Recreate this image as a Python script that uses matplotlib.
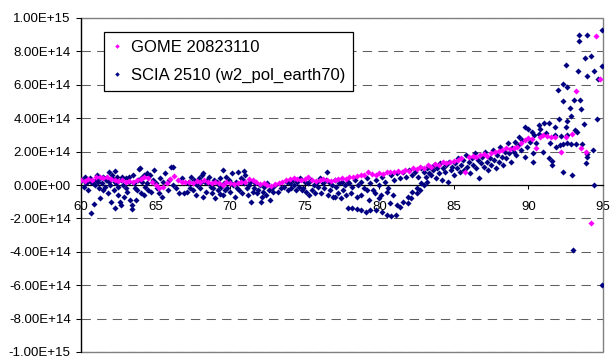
import matplotlib
matplotlib.use('Agg')
import matplotlib.pyplot as plt
from matplotlib.patches import Rectangle
from matplotlib.ticker import FuncFormatter, MultipleLocator

plt.rcParams['font.family'] = ['Liberation Sans', 'DejaVu Sans']

# values, y in units of 1e14
unit = 1e14

gome_x = [
    60.0, 60.25, 60.5, 60.75, 61.0, 61.25, 61.5, 61.75, 62.0, 62.25,
    62.5, 62.75, 63.0, 63.25, 63.5, 63.75, 64.0, 64.25, 64.5, 64.75,
    65.0, 65.25, 65.5, 65.75, 66.0, 66.25, 66.5, 66.75, 67.0, 67.25,
    67.5, 67.75, 68.0, 68.25, 68.5, 68.75, 69.0, 69.25, 69.5, 69.75,
    70.0, 70.25, 70.5, 70.75, 71.0, 71.25, 71.5, 71.75, 72.0, 72.25,
    72.5, 72.75, 73.0, 73.25, 73.5, 73.75, 74.0, 74.25, 74.5, 74.75,
    75.0, 75.25, 75.5, 75.75, 76.0, 76.25, 76.5, 76.75, 77.0, 77.25,
    77.5, 77.75, 78.0, 78.25, 78.5, 78.75, 79.0, 79.25, 79.5, 79.75,
    80.0, 80.25, 80.5, 80.75, 81.0, 81.25, 81.5, 81.75, 82.0, 82.25,
    82.5, 82.75, 83.0, 83.25, 83.5, 83.75, 84.0, 84.25, 84.5, 84.75,
    85.0, 85.25, 85.5, 85.75, 86.0, 86.25, 86.5, 86.75, 87.0, 87.25,
    87.5, 87.75, 88.0, 88.25, 88.5, 88.75, 89.0, 89.25, 89.5, 89.75,
    90.0, 90.25, 90.5, 90.75, 91.0, 91.25, 91.5, 91.8, 92.2, 92.5,
    92.9, 93.2, 93.5, 93.85, 94.2, 94.5, 94.8,
]
gome_y = [
    0.3, 0.25, 0.35, 0.3, 0.45, 0.5, 0.4, 0.45, 0.35, 0.3,
    0.25, 0.3, 0.2, 0.25, 0.15, 0.3, 0.35, 0.5, 0.4, 0.2,
    0.0, -0.15, -0.1, 0.1, 0.35, 0.55, 0.3, 0.2, 0.15, 0.2,
    0.1, 0.25, 0.2, 0.3, 0.15, 0.1, 0.2, 0.1, 0.0, 0.15,
    0.1, 0.05, 0.1, 0.2, 0.15, 0.35, 0.3, 0.15, 0.05, 0.1,
    0.0, -0.05, 0.05, 0.1, 0.2, 0.3, 0.35, 0.4, 0.35, 0.3,
    0.35, 0.5, 0.3, 0.25, 0.3, 0.35, 0.3, 0.25, 0.3, 0.35,
    0.4, 0.35, 0.45, 0.5, 0.55, 0.6, 0.6, 0.75, 0.65, 0.6,
    0.7, 0.65, 0.75, 0.8, 0.75, 0.85, 0.8, 0.9, 0.85, 1.0,
    0.95, 1.1, 1.0, 1.2, 1.1, 1.25, 1.2, 1.35, 1.3, 1.4,
    1.45, 1.5, 1.6, 0.8, 1.7, 1.75, 1.7, 1.8, 1.85, 1.75,
    1.9, 2.0, 2.05, 2.1, 2.2, 2.15, 2.2, 2.3, 2.5, 2.7,
    2.8, 2.75, 2.2, 2.9, 3.0, 2.95, 2.9, 2.9, 1.95, 2.85,
    3.05, 5.6, 2.2, 1.97, -2.3, 8.9, 6.35,
]

scia_x = [
    60.1, 60.2, 60.3, 60.35, 60.4, 60.5, 60.6, 60.65, 60.7, 60.8,
    60.9, 60.95, 61.0, 61.1, 61.15, 61.2, 61.25, 61.3, 61.4, 61.45,
    61.5, 61.6, 61.65, 61.7, 61.8, 61.85, 61.9, 61.95, 62.0, 62.05,
    62.1, 62.2, 62.25, 62.3, 62.3, 62.35, 62.4, 62.45, 62.5, 62.6,
    62.65, 62.7, 62.75, 62.8, 62.9, 63.0, 63.05, 63.1, 63.2, 63.25,
    63.3, 63.4, 63.45, 63.5, 63.55, 63.6, 63.7, 63.75, 63.8, 63.9,
    63.95, 64.0, 64.05, 64.1, 64.2, 64.25, 64.3, 64.4, 64.45, 64.5,
    64.6, 64.7, 64.8, 64.9, 65.0, 65.1, 65.2, 65.3, 65.4, 65.5,
    65.6, 65.8, 65.9, 66.05, 66.15, 66.2, 66.4, 66.6, 66.75, 66.9,
    67.1, 67.2, 67.25, 67.3, 67.4, 67.5, 67.6, 67.65, 67.7, 67.8,
    67.9, 68.0, 68.05, 68.1, 68.2, 68.3, 68.4, 68.45, 68.5, 68.6,
    68.7, 68.8, 68.85, 68.9, 69.0, 69.1, 69.2, 69.25, 69.3, 69.4,
    69.5, 69.6, 69.65, 69.7, 69.8, 69.9, 70.0, 70.05, 70.1, 70.2,
    70.3, 70.4, 70.45, 70.5, 70.6, 70.7, 70.8, 70.85, 70.9, 71.0,
    71.1, 71.2, 71.25, 71.3, 71.4, 71.5, 69.55, 70.95, 68.15, 69.35,
    71.6, 71.7, 71.8, 71.9, 72.0, 72.1, 72.15, 72.2, 72.3, 72.4,
    72.5, 72.6, 72.7, 72.8, 72.9, 73.0, 73.2, 73.4, 73.6, 73.8,
    73.9, 74.0, 74.1, 74.2, 74.3, 74.4, 74.5, 74.6, 74.7, 74.8,
    74.9, 75.0, 75.1, 75.2, 75.3, 75.4, 75.5, 75.6, 75.7, 75.8,
    75.9, 76.0, 76.1, 76.2, 76.3, 76.4, 76.5, 76.55, 76.6, 76.7,
    76.8, 76.9, 77.0, 77.05, 77.1, 77.2, 77.3, 77.4, 77.5, 77.6,
    77.7, 77.8, 77.9,
    78.0, 78.2, 78.4, 78.6, 78.8, 79.0, 79.2, 79.4, 79.6, 79.8,
    80.0, 80.2, 80.4, 80.6, 80.8, 81.0, 81.2, 81.4, 81.6, 81.8,
    82.0, 82.2, 82.4, 82.6, 82.8,
    78.1, 78.5, 78.8, 79.2, 79.3, 79.7, 80.0, 80.1, 80.5, 80.9,
    77.9, 78.2, 78.5, 78.8, 79.1, 79.4, 79.8, 80.2, 80.5, 80.8,
    81.1, 81.4, 81.9, 82.1, 82.5, 82.7, 83.0, 83.2,
    80.7, 81.2, 81.6, 81.9, 82.2, 82.5, 82.8,
    83.0, 83.1, 83.2, 83.3, 83.4, 83.5, 83.6, 83.7, 83.8, 83.9,
    84.0, 84.1, 84.2, 84.3, 84.4, 84.5, 84.6, 84.7, 84.8, 84.9,
    85.0, 85.1, 85.2, 85.3, 85.4, 85.5, 85.6, 85.7, 85.8, 85.9,
    86.0, 86.1, 86.2, 86.3, 86.4, 86.5, 86.6, 86.7, 86.8, 86.9,
    87.0, 87.1, 87.2, 87.3, 87.4, 87.5, 87.6, 87.7, 87.8, 87.9,
    88.0, 88.1, 88.2, 88.3, 88.4, 88.5, 88.6, 88.7, 88.8, 88.9,
    89.0, 89.1, 89.2, 89.3, 89.4, 89.5, 89.6, 89.75, 89.8, 89.9,
    90.0, 90.1, 90.25, 90.3, 90.3, 90.4, 90.5, 90.7, 90.7, 90.8,
    90.95, 91.05, 91.15, 91.35, 91.4, 91.45, 91.6, 91.6, 91.75, 91.8,
    91.85, 92.0, 92.05, 92.1, 92.2, 92.3, 92.3, 92.3, 92.3, 92.55,
    92.55, 92.6, 92.6, 92.6, 92.6, 92.8, 92.85, 92.85, 92.9, 93.0,
    93.05, 93.1, 93.2, 93.25, 93.3, 93.4, 93.4, 93.45, 93.5, 93.6,
    93.7, 93.8, 93.85, 93.9, 93.9, 93.9, 93.95, 94.2, 94.35, 94.4,
    94.4, 94.6, 94.65, 94.9, 94.9, 94.96,
]
scia_y = [
    0.3, -0.1, 0.5, 0.1, 0.2, -0.3, 0.4, 0.2, -1.7, 0.1,
    -1.15, 0.0, 0.3, 0.6, 0.2, -0.2, -0.8, 0.4, 0.1, -0.3,
    0.5, -0.1, 0.4, 0.3, -0.5, 0.75, 0.2, 0.0, -1.0, 0.4,
    0.6, -0.3, 0.2, -1.4, 0.85, 0.1, 0.5, -0.1, -0.6, -1.0,
    0.3, -1.2, 0.5, 0.0, -0.7, 0.4, -0.2, -0.4, 0.2, 0.5,
    -0.9, -1.45, -1.2, 0.6, 0.1, -0.2, -0.9, -0.3, 0.3, 0.95,
    1.0, -0.5, 0.4, 0.2, 0.6, -0.6, -0.1, 0.7, 0.1, -0.3,
    0.6, -0.4, 0.3, 0.9, 0.1, -0.2, -0.5, 0.4, -0.7, 0.2,
    0.7, -0.3, 0.3, 1.1, 1.05, 0.0, -0.2, -0.5, 0.4, -0.5,
    -0.4, 0.1, 0.2, -0.2, 0.5, -0.3, 0.3, 0.1, -0.6, 0.0,
    0.4, -0.2, 0.2, 0.6, -0.7, 0.2, -0.4, 0.3, 0.1, 0.5,
    -0.1, -0.5, -0.2, 0.3, -0.8, 0.2, -0.3, 0.0, 0.4, -0.1,
    -0.6, 0.1, -0.3, 0.5, -0.2, 0.3, -0.4, 0.1, 0.7, 0.0,
    -0.7, 0.2, -0.2, 0.8, -0.3, 0.4, -0.5, 0.3, 0.1, 0.6,
    -0.2, -0.6, 0.0, 0.2, -1.0, -0.4, 0.9, 0.85, 0.7, -0.55,
    -0.2, 0.1, -0.5, -0.3, 0.0, -1.0, -0.7, -0.4, -0.1, -0.6,
    0.1, -0.3, -0.9, -0.2, -0.4, 0.0, -0.4, -0.2, -0.1, 0.2,
    -0.3, 0.1, -0.2, 0.3, 0.0, -0.3, 0.2, -0.1, 0.4, -0.3,
    -0.2, 0.2, -0.4, 0.1, -0.6, 0.3, -0.3, 0.0, -0.5, 0.2,
    -0.1, 0.4, -0.5, 0.1, -0.2, 0.3, 0.75, -0.6, 0.2, -0.3,
    0.0, -0.7, 0.3, -0.7, -0.1, -0.5, 0.1, -0.8, 0.2, -0.3,
    0.0, -0.6, 0.2,
    0.1, -0.1, 0.3, 0.0, 0.2, -0.2, 0.4, 0.1, -0.3, 0.3,
    0.0, 0.5, 0.2, -0.2, 0.6, 0.3, 0.7, 0.4, 0.8, 0.5,
    0.9, 0.6, 0.8, 0.5, 1.0,
    -0.5, -0.7, -0.6, -0.3, -0.9, -0.5, -0.8, -0.6, -0.4, -0.6,
    -1.35, -1.4, -1.45, -1.5, -1.6, -1.5, -1.5, -1.6, -1.8, -1.85,
    -1.8, -1.3, -1.1, -0.8, -0.5, -0.3, 0.0, 0.2,
    -1.1, -1.2, -1.0, -0.7, -0.4, -0.2, 0.1,
    0.8, 0.5, 1.0, 0.7, 1.1, 0.6, 0.9, 1.2, 0.4, 1.0,
    0.7, 1.3, 0.3, 1.0, 0.8, 1.2, 0.2, 1.4, 0.9, 1.1,
    0.6, 1.3, 1.0, 1.6, 0.8, 1.2, 1.5, 0.9, 1.8, 1.1,
    1.4, 0.7, 1.6, 1.2, 1.9, 1.0, 1.5, 0.4, 1.3, 1.7,
    1.1, 2.0, 1.4, 0.9, 1.6, 1.2, 2.1, 1.5, 1.0, 1.8,
    1.4, 2.3, 1.7, 1.2, 2.0, 1.6, 2.5, 1.9, 1.4, 2.2,
    2.0, 2.6, 1.8, 2.4, 2.9, 2.1, 2.7, 1.65, 3.5, 2.3,
    3.37, 2.6, 3.15, 1.9, 1.35, 3.0, 2.5, 3.6, 3.05, 3.35,
    2.0, 3.7, 3.1, 1.6, 3.7, 2.5, 1.45, 1.2, 3.5, 3.0,
    2.25, 5.7, 3.93, 2.4, 2.95, 6.05, 5.0, 2.45, 0.8, 7.2,
    3.45, 5.85, 3.83, 3.0, 2.5, 4.6, 4.15, 2.45, 0.6, -3.9,
    5.1, 3.3, 2.43, 3.2, 6.85, 9.0, 8.65, 5.1, 4.55, 2.45,
    3.65, 7.6, 1.3, 6.55, 1.85, 1.65, 9.0, 7.75, 2.1, 6.85,
    0.0, 3.95, 6.35, 9.3, 7.15, -6.0,
]

gome_label = 'GOME 20823110'
scia_label = 'SCIA 2510 (w2_pol_earth70)'

fig = plt.figure(figsize=(6.1, 3.56), dpi=100)
ax = fig.add_axes([81 / 610, 4 / 356, 522 / 610, 334 / 356])

s, = ax.plot(scia_x, [v * unit for v in scia_y], linestyle='none', marker='D',
             ms=3.1, mew=0, color='#000080', zorder=3)
g, = ax.plot(gome_x, [v * unit for v in gome_y], linestyle='none', marker='D',
             ms=3.1, mew=0, color='#ff00ff', zorder=4)

ax.set_xlim(60, 95)
ax.set_ylim(-1e15, 1e15)
ax.xaxis.set_major_locator(MultipleLocator(5))
ax.yaxis.set_major_locator(MultipleLocator(2e14))
ax.yaxis.set_major_formatter(FuncFormatter(lambda v, p: f'{v:.2E}'))

ax.grid(axis='y', color='#606060', linestyle=(0, (9, 6)), linewidth=0.75, zorder=1)
ax.set_axisbelow(True)

for side in ['top', 'right']:
    ax.spines[side].set_visible(False)
ax.spines['bottom'].set_position(('data', 0))
ax.spines['bottom'].set_linewidth(0.9)
ax.spines['left'].set_linewidth(0.9)
ax.add_patch(Rectangle((0, 0), 1, 1, transform=ax.transAxes, fill=False,
                       edgecolor='#808080', linewidth=1, clip_on=False, zorder=2))

ax.tick_params(axis='y', direction='out', length=3.6, width=0.75, pad=3.8, labelsize=9.5)
ax.tick_params(axis='x', direction='out', length=3, width=0.75, pad=8.5, labelsize=9.5)

leg = ax.legend([g, s], [gome_label, scia_label], loc='upper left',
                bbox_to_anchor=(104 / 610, 1 - 32 / 356), bbox_transform=fig.transFigure,
                borderaxespad=0, fancybox=False, framealpha=1, edgecolor='black',
                fontsize=12, handlelength=0.6, handletextpad=0.5, borderpad=0.5,
                labelspacing=0.75, markerscale=0.75)
leg.get_frame().set_linewidth(0.9)

fig.savefig('out.png', dpi=100)
